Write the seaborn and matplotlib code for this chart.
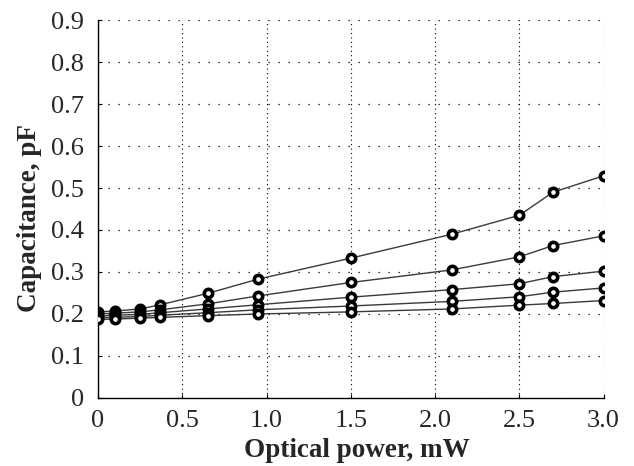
import numpy as np
import pandas as pd
import seaborn as sns
import matplotlib
matplotlib.use("Agg")
import matplotlib.pyplot as plt

power = [0, 0.1, 0.25, 0.37, 0.65, 0.95, 1.5, 2.1, 2.5, 2.7, 3.0]
s1 = [0.205, 0.207, 0.212, 0.222, 0.249, 0.283, 0.333, 0.390, 0.435, 0.490, 0.529]
s2 = [0.200, 0.202, 0.205, 0.210, 0.224, 0.243, 0.275, 0.305, 0.336, 0.363, 0.386]
s3 = [0.195, 0.197, 0.199, 0.203, 0.212, 0.222, 0.240, 0.258, 0.272, 0.289, 0.302]
s4 = [0.191, 0.192, 0.194, 0.197, 0.203, 0.210, 0.219, 0.230, 0.241, 0.252, 0.262]
s5 = [0.187, 0.188, 0.190, 0.192, 0.196, 0.200, 0.205, 0.212, 0.221, 0.225, 0.232]

xticks = [0, 0.5, 1.0, 1.5, 2.0, 2.5, 3.0]
xticklabels = ["0", "0.5", "1.0", "1.5", "2.0", "2.5", "3.0"]
yticks = [0, 0.1, 0.2, 0.3, 0.4, 0.5, 0.6, 0.7, 0.8, 0.9]
yticklabels = ["0", "0.1", "0.2", "0.3", "0.4", "0.5", "0.6", "0.7", "0.8", "0.9"]

df = pd.concat([
    pd.DataFrame({"power": power, "cap": s, "series": name})
    for name, s in zip(["s1", "s2", "s3", "s4", "s5"], [s1, s2, s3, s4, s5])
])

sns.set_style("white")
plt.rcParams["font.family"] = ["Liberation Serif", "DejaVu Serif"]

fig = plt.figure(figsize=(6.34, 4.66), dpi=100)
ax = fig.add_axes([0.1546, 0.146, 0.7974, 0.811])

sns.lineplot(
    data=df, x="power", y="cap", hue="series",
    palette=["#3a3a3a"] * 5, linewidth=1.0,
    marker="o", markersize=6, markerfacecolor="white",
    markeredgecolor="black", markeredgewidth=2.6,
    legend=False, ax=ax, zorder=3
)

ax.set_xlim(0, 3.0)
ax.set_ylim(0, 0.9)
ax.set_xticks(xticks)
ax.set_xticklabels(xticklabels)
ax.set_yticks(yticks)
ax.set_yticklabels(yticklabels)
ax.tick_params(axis="both", labelsize=19, direction="in", length=3,
               color="black", left=True, bottom=True)
ax.tick_params(axis="x", pad=9)
ax.tick_params(axis="y", pad=10)

# dotted grid: vertical lines denser than horizontal ones
ax.xaxis.grid(True, linestyle=(0, (1, 3)), color="black", linewidth=0.8)
ax.yaxis.grid(True, linestyle=(0, (1, 7)), color="black", linewidth=0.9)
for side in ["top", "right"]:
    ax.spines[side].set_visible(False)
for side in ["left", "bottom"]:
    ax.spines[side].set_color("black")
    ax.spines[side].set_linewidth(1.0)

ax.set_xlabel("Optical power, mW", fontsize=19.5, fontweight="bold")
ax.set_ylabel("Capacitance, pF", fontsize=19.5, fontweight="bold")
ax.xaxis.set_label_coords(0.513, -0.106)
ax.yaxis.set_label_coords(-0.110, 0.476)

fig.savefig("out.png", dpi=100)
